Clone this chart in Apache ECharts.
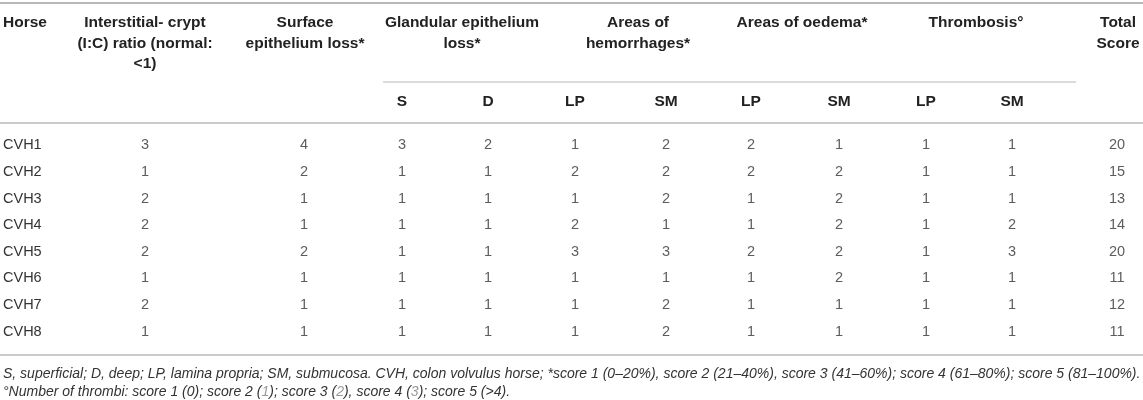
<!DOCTYPE html>
<html>
<head>
<meta charset="utf-8">
<script src="https://cdn.jsdelivr.net/npm/echarts@6/dist/echarts.min.js"></script>
<style>
  html, body { margin: 0; padding: 0; background: #fff; }
  #chart { width: 1143px; height: 400px; }
</style>
</head>
<body>
<div id="chart"></div>
<script>
// ——— table data ———
const horses      = ['CVH1', 'CVH2', 'CVH3', 'CVH4', 'CVH5', 'CVH6', 'CVH7', 'CVH8'];
const icRatio     = [3, 1, 2, 2, 2, 1, 2, 1];
const surfaceLoss = [4, 2, 1, 1, 2, 1, 1, 1];
const glandS      = [3, 1, 1, 1, 1, 1, 1, 1];
const glandD      = [2, 1, 1, 1, 1, 1, 1, 1];
const hemLP       = [1, 2, 1, 2, 3, 1, 1, 1];
const hemSM       = [2, 2, 2, 1, 3, 1, 2, 2];
const oedLP       = [2, 2, 1, 1, 2, 1, 1, 1];
const oedSM       = [1, 2, 2, 2, 2, 2, 1, 1];
const thrLP       = [1, 1, 1, 1, 1, 1, 1, 1];
const thrSM       = [1, 1, 1, 2, 3, 1, 1, 1];
const totalScore  = [20, 15, 13, 14, 20, 11, 12, 11];

const groupHeaders = [
  ['Interstitial- crypt', '(I:C) ratio (normal:', '<1)'],
  ['Surface', 'epithelium loss*'],
  ['Glandular epithelium', 'loss*'],
  ['Areas of', 'hemorrhages*'],
  ['Areas of oedema*'],
  ['Thrombosis°'],
  ['Total', 'Score']
];
const subHeaders = ['S', 'D', 'LP', 'SM', 'LP', 'SM', 'LP', 'SM'];
const footnotes = [
  'S, superficial; D, deep; LP, lamina propria; SM, submucosa. CVH, colon volvulus horse; *score 1 (0–20%), score 2 (21–40%), score 3 (41–60%); score 4 (61–80%); score 5 (81–100%).',
  '°Number of thrombi: score 1 (0); score 2 ({g|1}); score 3 ({g|2}), score 4 ({g|3}); score 5 (>4).'
];

// ——— layout ———
const W = 1143;
const FONT = '"Liberation Sans", Arial, sans-serif';
const scoreCols = [icRatio, surfaceLoss, glandS, glandD, hemLP, hemSM, oedLP, oedSM, thrLP, thrSM, totalScore];
const colX      = [145, 304, 402, 488, 575, 666, 751, 839, 926, 1012, 1117];
const groupX    = [145, 305, 462, 638, 802, 976, 1118];
const subX      = colX.slice(2, 10);
const headLineY = [23, 44, 64];
const rule      = '#b8b8b8';

const graphic = [];
const hline = (x1, x2, y, w) => graphic.push({
  type: 'line', silent: true,
  shape: { x1, y1: y, x2, y2: y },
  style: { stroke: rule, lineWidth: w }
});
const txt = (text, x, y, font, align, fill, rich) => graphic.push({
  type: 'text', silent: true, x, y,
  style: { text, x: 0, y: 0, font, fill, align, verticalAlign: 'middle', rich }
});

hline(0, W, 3, 2);
hline(383, 1076, 82, 1.2);
hline(0, W, 123, 1.5);
hline(0, W, 355, 1.5);

const bold = 'bold 15.5px ' + FONT;
txt('Horse', 3, headLineY[0], bold, 'left', '#222');
groupHeaders.forEach((lines, i) =>
  lines.forEach((l, k) => txt(l, groupX[i], headLineY[k], bold, 'center', '#222'))
);
subHeaders.forEach((s, i) => txt(s, subX[i], 102, bold, 'center', '#222'));

const ital = 'italic 14px ' + FONT;
txt(footnotes[0], 3, 374, ital, 'left', '#333');
txt(footnotes[1], 3, 392, ital, 'left', '#333', { g: { fill: '#999', font: ital } });

// ——— cells via scatter labels ———
const series = scoreCols.map((vals, j) => ({
  type: 'scatter',
  symbolSize: 1,
  itemStyle: { color: 'rgba(0,0,0,0)' },
  silent: true,
  data: vals.map((v, i) => [colX[j], horses[i], v]),
  label: {
    show: true, position: 'inside',
    formatter: p => String(p.value[2]),
    color: '#333', fontSize: 14.5, fontFamily: FONT
  }
}));

const chart = echarts.init(document.getElementById('chart'));
chart.setOption({
  animation: false,
  grid: { left: 0, right: 0, top: 132, height: 213 },
  xAxis: { type: 'value', min: 0, max: W, show: false },
  yAxis: {
    type: 'category', data: horses, inverse: true,
    axisLine: { show: false }, axisTick: { show: false }, splitLine: { show: false },
    axisLabel: { interval: 0, align: 'left', margin: -3, color: '#333', fontSize: 14.5, fontFamily: FONT }
  },
  series,
  graphic
});
</script>
</body>
</html>
